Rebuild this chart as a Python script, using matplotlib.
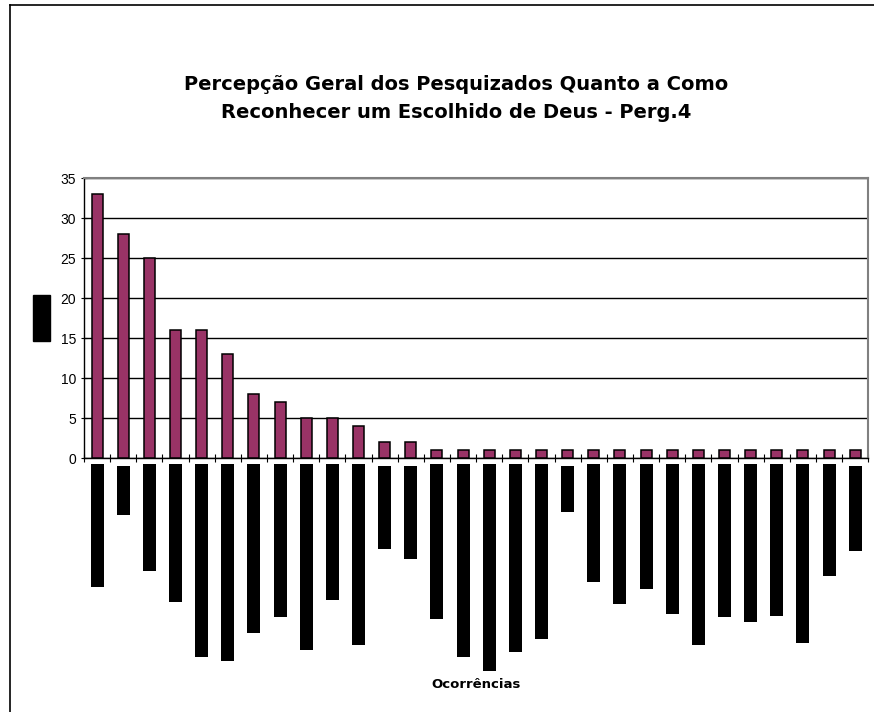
import numpy as np
import matplotlib
matplotlib.use("Agg")
import matplotlib.pyplot as plt
from matplotlib.patches import Rectangle
from matplotlib.lines import Line2D

plt.rcParams['font.family'] = ['Liberation Sans', 'DejaVu Sans']

# occurrences per answer (30 categories, labels unreadable in the source)
valores = [33, 28, 25, 16, 16, 13, 8, 7, 5, 5, 4, 2, 2,
           1, 1, 1, 1, 1, 1, 1, 1, 1, 1, 1, 1, 1, 1, 1, 1, 1]
# the category labels render as black blocks: start offset and end in px below the axis
bloco_inicio = [6, 8, 6, 6, 6, 6, 6, 6, 6, 6, 6, 8, 8, 6, 6,
                6, 6, 6, 8, 6, 6, 6, 6, 6, 6, 6, 6, 6, 6, 8]
bloco_fim = [129, 57, 113, 144, 199, 203, 175, 159, 192, 142, 187, 91, 101, 161, 199,
             213, 194, 181, 54, 124, 146, 131, 156, 187, 159, 164, 158, 185, 118, 93]
titulo = "Percepção Geral dos Pesquizados Quanto a Como\nReconhecer um Escolhido de Deus - Perg.4"
rotulo_x = "Ocorrências"
yticks = [0, 5, 10, 15, 20, 25, 30, 35]

W, H = 874, 712
fig = plt.figure(figsize=(W / 100, H / 100), dpi=100)

# outer chart frame (right/bottom sides fall outside the picture)
fig.add_artist(Line2D([10 / W, 10 / W], [0, 1 - 4.5 / H], color='black', lw=1.2))
fig.add_artist(Line2D([10 / W, 1], [1 - 4.5 / H, 1 - 4.5 / H], color='black', lw=1.2))

x0, x1, y0, y1 = 84, 868.3, 178, 458.3
ax = fig.add_axes([x0 / W, 1 - y1 / H, (x1 - x0) / W, (y1 - y0) / H])
x = np.arange(len(valores))
ax.bar(x, valores, width=0.42, color='#993366', edgecolor='black', linewidth=1.1, zorder=3)
ax.set_xlim(-0.5, len(valores) - 0.5)
ax.set_ylim(0, 35)
ax.set_yticks(yticks)
ax.tick_params(axis='y', direction='inout', length=5, width=0.8, labelsize=10, pad=3)
ax.set_xticks([])
ax.set_xticks(np.arange(-0.5, len(valores), 1), minor=True)
ax.tick_params(axis='x', which='minor', direction='inout', length=6, width=0.8)
ax.yaxis.grid(True, color='black', linewidth=1.0, zorder=0)
for s in ['top', 'right']:
    ax.spines[s].set_color('#808080')
    ax.spines[s].set_linewidth(1.5)
ax.spines['left'].set_linewidth(1.0)
ax.spines['bottom'].set_linewidth(1.0)

# band below the axis for the blocked-out category labels, y in pixels below the axis
lab = fig.add_axes([x0 / W, 0, (x1 - x0) / W, (H - y1) / H])
lab.set_xlim(-0.5, len(valores) - 0.5)
lab.set_ylim(H - y1, 0)
alturas = [f - i for i, f in zip(bloco_inicio, bloco_fim)]
lab.bar(x, alturas, bottom=bloco_inicio, width=0.5, color='black', linewidth=0)
lab.axis('off')

# y-axis title, also rendered as a black block
fig.add_artist(Rectangle((33 / W, 1 - 341 / H), 17 / W, 46 / H, color='black'))

fig.text(456 / W, 1 - 99 / H, titulo, ha='center', va='center', fontsize=14,
         fontweight='bold', linespacing=1.6, family=['DejaVu Sans'])
fig.text(476 / W, 1 - 685 / H, rotulo_x, ha='center', va='center', fontsize=9.5,
         fontweight='bold', family=['DejaVu Sans'])

fig.savefig("out.png", dpi=100)
